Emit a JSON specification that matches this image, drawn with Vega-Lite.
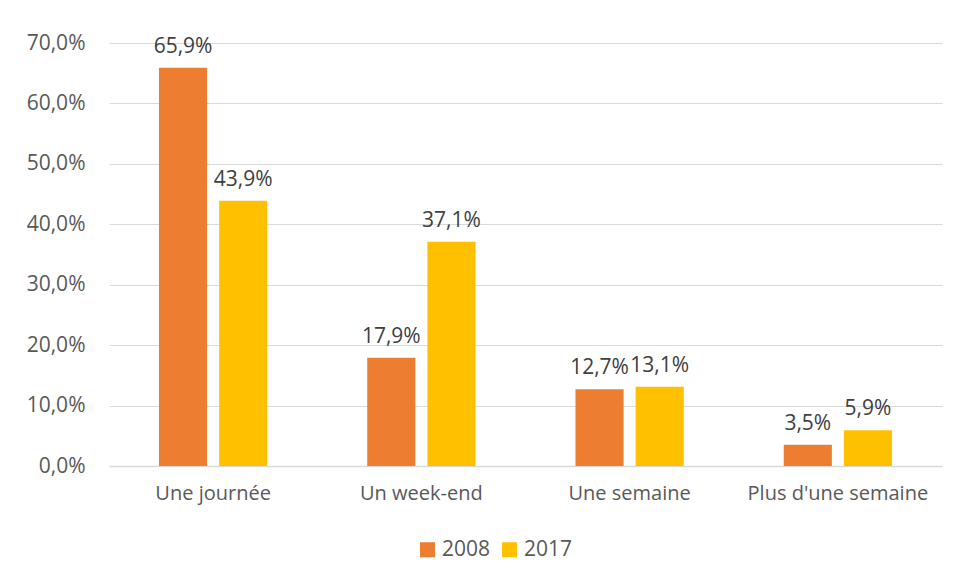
{
  "$schema": "https://vega.github.io/schema/vega-lite/v6.json",
  "width": 833,
  "height": 423,
  "autosize": {"type": "none"},
  "padding": {"left": 109, "top": 43, "right": 15, "bottom": 115},
  "background": "white",
  "config": {
    "font": "Open Sans",
    "view": {"stroke": null},
    "axis": {"labelFont": "Open Sans", "labelColor": "#595959", "labelFontSize": 20}
  },
  "data": {
    "values": [
      {"duree": "Une journée", "annee": "2008", "valeur": 0.659},
      {"duree": "Une journée", "annee": "2017", "valeur": 0.439},
      {"duree": "Un week-end", "annee": "2008", "valeur": 0.179},
      {"duree": "Un week-end", "annee": "2017", "valeur": 0.371},
      {"duree": "Une semaine", "annee": "2008", "valeur": 0.127},
      {"duree": "Une semaine", "annee": "2017", "valeur": 0.131},
      {"duree": "Plus d'une semaine", "annee": "2008", "valeur": 0.035},
      {"duree": "Plus d'une semaine", "annee": "2017", "valeur": 0.059}
    ]
  },
  "encoding": {
    "x": {
      "field": "duree",
      "type": "nominal",
      "sort": ["Une journée", "Un week-end", "Une semaine", "Plus d'une semaine"],
      "scale": {"paddingInner": 0.48, "paddingOuter": 0.24},
      "axis": {
        "title": null,
        "labelAngle": 0,
        "ticks": false,
        "domainColor": "#d9d9d9",
        "domainWidth": 1.5,
        "labelPadding": 17,
        "labelFontSize": 20,
        "labelLimit": 400,
        "labelOverlap": false
      }
    },
    "xOffset": {
      "field": "annee",
      "type": "nominal",
      "scale": {"paddingInner": 0.2, "paddingOuter": 0}
    },
    "y": {
      "field": "valeur",
      "type": "quantitative",
      "scale": {"domain": [0, 0.7]},
      "axis": {
        "title": null,
        "values": [0, 0.1, 0.2, 0.3, 0.4, 0.5, 0.6, 0.7],
        "labelExpr": "replace(format(datum.value, '.1%'), '.', ',')",
        "domain": false,
        "ticks": false,
        "gridColor": "#d9d9d9",
        "gridWidth": 1.2,
        "labelPadding": 24,
        "labelFontSize": 21
      }
    }
  },
  "layer": [
    {
      "mark": {"type": "bar"},
      "encoding": {
        "color": {
          "field": "annee",
          "type": "nominal",
          "scale": {"domain": ["2008", "2017"], "range": ["#ED7D31", "#FFC000"]},
          "legend": {
            "title": null,
            "orient": "none",
            "legendX": 308,
            "legendY": 496,
            "direction": "horizontal",
            "symbolType": "square",
            "symbolSize": 225,
            "symbolStrokeWidth": 0,
            "labelFont": "Open Sans",
            "labelFontSize": 21,
            "labelColor": "#595959",
            "columnPadding": 8,
            "labelOffset": 4
          }
        }
      }
    },
    {
      "mark": {"type": "text", "baseline": "bottom", "dy": -11, "fontSize": 21, "font": "Open Sans", "color": "#404040"},
      "encoding": {
        "text": {"field": "label", "type": "nominal"}
      },
      "transform": [
        {"calculate": "replace(format(datum.valeur, '.1%'), '.', ',')", "as": "label"}
      ]
    }
  ]
}
